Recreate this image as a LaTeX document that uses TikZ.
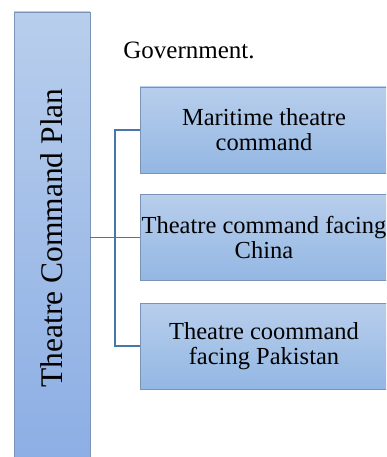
\documentclass[tikz,border=0pt]{standalone}
\usepackage{fontspec}
\setmainfont{Liberation Serif}
\usetikzlibrary{positioning, calc}

\definecolor{boxtop}{RGB}{184,206,236}
\definecolor{boxbot}{RGB}{147,183,227}
\definecolor{boxline}{RGB}{122,147,182}
\definecolor{linkblue}{RGB}{72,118,168}

\tikzset{
    cmdbox/.style={rectangle, draw=boxline, line width=0.9pt, top color=boxtop, bottom color=boxbot,
        minimum width=248, minimum height=86, align=center, inner sep=0pt,
        font=\fontsize{24.5}{25}\selectfont},
    planbar/.style={rectangle, draw=boxline, line width=0.9pt, top color=boxtop, bottom color=boxbot!95!blue,
        minimum width=76, minimum height=452, inner sep=0pt},
    link/.style={draw=linkblue, line width=1.2pt}
}

\begin{document}
\begin{tikzpicture}[x=1pt, y=-1pt]
        \useasboundingbox (0,0) rectangle (386,457);
        \clip (0,0) rectangle (386,457);

        % left bar
        \node[planbar] (plan) at (52,238) {};
        \node[rotate=90, font=\fontsize{31.5}{32}\selectfont] (plantext) at (plan.center) {Theatre Command Plan};

        \node[font=\fontsize{25}{26}\selectfont] (gov) at (189,50) {Government.};

        % commands
        \node[cmdbox] (maritime) at (264,130) {Maritime theatre\\command};
        \node[cmdbox] (china) at (264,237.5) {Theatre command facing\\China};
        \node[cmdbox] (pakistan) at (264,346) {Theatre coommand\\facing Pakistan};

        \coordinate (fork) at (115,238);
        \draw[link] (plan.east |- china.west) -- (china.west);
        \draw[link] (maritime.west) -- (maritime.west -| fork) -- (pakistan.west -| fork) -- (pakistan.west);
    \end{tikzpicture}
\end{document}
